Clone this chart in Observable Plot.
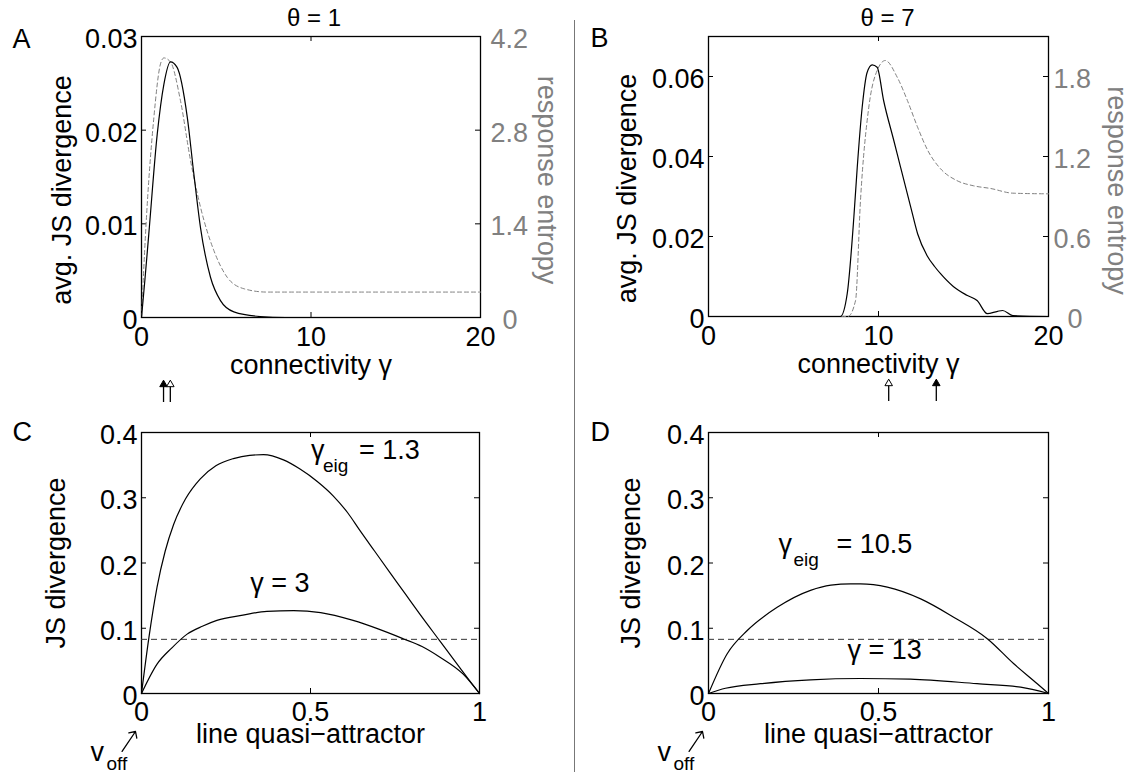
<!DOCTYPE html>
<html>
<head>
<meta charset="utf-8">
<script src="https://cdn.jsdelivr.net/npm/d3@7"></script>
<script src="https://cdn.jsdelivr.net/npm/@observablehq/plot@0.6"></script>
<style>
  body { margin: 0; background: #fff; }
  #fig { position: relative; width: 1137px; height: 774px; overflow: hidden; background: #fff;
         font-family: "Liberation Sans", Arial, Helvetica, sans-serif; }
  #fig svg { position: absolute; }
  .divider { position: absolute; left: 574px; top: 20px; width: 1px; height: 752px; background: #777; }
</style>
</head>
<body>
<div id="fig"><div class="divider"></div></div>
<script>
// ---------------- data ----------------
// Panel A (theta = 1)
const aTitle = "θ = 1";
const aX   = [0, 0.2, 0.43, 0.93, 1.32, 1.71, 2.1, 2.7, 3.09, 3.48, 4.07, 4.66, 5.45, 7.0, 8.5, 10, 15, 20];
const aJS  = [0, 0.004, 0.0089, 0.0196, 0.0249, 0.0273, 0.0267, 0.0214, 0.0153, 0.0096, 0.0043, 0.0018, 0.0006, 0.0001, 0, 0, 0, 0];
const aEntX = [0, 0.24, 0.73, 1.12, 1.32, 1.71, 2.3, 2.89, 3.48, 4.27, 5.06, 6.04, 7.4, 10, 15, 20];
const aEnt  = [0, 1.26, 2.99, 3.79, 3.88, 3.82, 3.24, 2.35, 1.65, 1.0, 0.6, 0.43, 0.38, 0.38, 0.38, 0.38];
const aXTicks = [0, 10, 20];
const aYTicks = [0, 0.01, 0.02, 0.03];
const aEntTicks = [0, 1.4, 2.8, 4.2];
const aArrowX = [1.3, 1.7];
const aArrowFilled = [true, false];

// Panel B (theta = 7)
const bTitle = "θ = 7";
const bX  = [0, 7.5, 7.76, 8.16, 8.55, 8.75, 9.04, 9.33, 9.63, 9.92, 10.3, 10.9, 11.3, 11.9, 12.3, 12.86, 13.3, 13.65, 14.4, 15.2, 15.8, 16.4, 17.0, 17.3, 17.9, 20];
const bJS = [0, 0, 0, 0.0057, 0.0248, 0.0373, 0.0523, 0.061, 0.0629, 0.0623, 0.054, 0.044, 0.0373, 0.0273, 0.0207, 0.0152, 0.0125, 0.0107, 0.0075, 0.0053, 0.004, 0.0007, 0.0013, 0.0015, 0.0002, 0];
const bEntX = [0, 8.2, 8.65, 8.94, 9.43, 9.92, 10.4, 11.1, 11.7, 12.3, 12.9, 13.65, 14.6, 15.6, 16.6, 17.9, 20];
const bEnt  = [0, 0, 0.12, 0.87, 1.57, 1.845, 1.92, 1.795, 1.62, 1.42, 1.245, 1.108, 1.02, 0.98, 0.96, 0.925, 0.92];
const bXTicks = [0, 10, 20];
const bYTicks = [0, 0.02, 0.04, 0.06];
const bEntTicks = [0, 0.6, 1.2, 1.8];
const bArrowX = [10.6, 13.4];
const bArrowFilled = [false, true];

// Panel C
const cX1 = [0, 0.022, 0.046, 0.07, 0.095, 0.13, 0.174, 0.22, 0.272, 0.32, 0.361, 0.42, 0.469, 0.52, 0.567, 0.61, 0.646, 0.69, 0.734, 0.78, 0.823, 0.882, 0.941, 0.97, 1];
const cY1 = [0, 0.086, 0.163, 0.218, 0.259, 0.298, 0.329, 0.349, 0.36, 0.365, 0.366, 0.358, 0.344, 0.325, 0.303, 0.277, 0.25, 0.218, 0.186, 0.153, 0.122, 0.081, 0.04, 0.02, 0];
const cX2 = [0, 0.046, 0.09, 0.135, 0.18, 0.223, 0.3, 0.371, 0.45, 0.53, 0.626, 0.7, 0.774, 0.83, 0.882, 0.951, 1];
const cY2 = [0, 0.045, 0.07, 0.091, 0.103, 0.112, 0.12, 0.126, 0.127, 0.124, 0.112, 0.099, 0.084, 0.072, 0.056, 0.03, 0];
const cThreshold = 0.083;
const cLabel1 = ["γ", "eig", "= 1.3"];
const cLabel2 = "γ = 3";

// Panel D
const dX1 = [0, 0.055, 0.114, 0.202, 0.3, 0.36, 0.418, 0.447, 0.526, 0.624, 0.721, 0.82, 0.898, 0.967, 1];
const dY1 = [0, 0.061, 0.0966, 0.132, 0.158, 0.166, 0.168, 0.168, 0.163, 0.145, 0.117, 0.084, 0.0455, 0.015, 0];
const dX2 = [0, 0.05, 0.153, 0.3, 0.447, 0.594, 0.79, 0.918, 1];
const dY2 = [0, 0.008, 0.015, 0.021, 0.023, 0.022, 0.015, 0.0097, 0];
const dThreshold = 0.083;
const dLabel1 = ["γ", "eig", "= 10.5"];
const dLabel2 = "γ = 13";

const cdXTicks = [0, 0.5, 1];
const cdYTicks = [0, 0.1, 0.2, 0.3, 0.4];

// ---------------- drawing ----------------
const fig = document.getElementById("fig");
const FONT = '"Liberation Sans", Arial, Helvetica, sans-serif';
const GRAY = "#808080";
const fmt = d => String(+(+d).toFixed(4));
const style = {fontFamily: FONT, fontSize: "27px", background: "transparent", overflow: "visible", maxWidth: "none", color: "black"};

function place(svg, left, top) {
  svg.style.position = "absolute";
  svg.style.left = left + "px";
  svg.style.top = top + "px";
  fig.appendChild(svg);
}

function boxMarks(xTicks, yTicks, iw, ih) {
  const L = 5;
  return [
    Plot.ruleX(xTicks, {x: d => d, insetTop: ih - L, stroke: "black", strokeWidth: 1}),
    Plot.ruleX(xTicks, {x: d => d, insetBottom: ih - L, stroke: "black", strokeWidth: 1}),
    Plot.ruleY(yTicks, {y: d => d, insetRight: iw - L, stroke: "black", strokeWidth: 1}),
    Plot.ruleY(yTicks, {y: d => d, insetLeft: iw - L, stroke: "black", strokeWidth: 1}),
    Plot.frame({stroke: "black", strokeWidth: 1.3})
  ];
}

function rightAxis(ticks, k, pad, padZero) {
  const nz = ticks.filter(v => v !== 0).map(v => v * k);
  const z = ticks.filter(v => v === 0).map(v => v * k);
  const opts = {anchor: "right", tickSize: 0, dy: 3, tickFormat: d => fmt(d / k), label: null, color: GRAY, fill: GRAY};
  return [
    Plot.axisY(nz, {...opts, tickPadding: pad}),
    Plot.axisY(z, {...opts, tickPadding: padZero})
  ];
}

function arrowMarks(xs, filled, ih) {
  // shafts below the x-axis label, heads as triangles
  return [
    Plot.ruleX(xs, {x: d => d, insetTop: ih + 69, insetBottom: -85, stroke: "black", strokeWidth: 1.3}),
    Plot.dot(xs, {x: d => d, frameAnchor: "bottom", dy: 67, symbol: "triangle", r: 2.8,
      stroke: "black", strokeWidth: 1, fill: (d, i) => filled[i] ? "black" : "white"})
  ];
}

function gammaLabel(parts, x, y, dxSub, dxRest) {
  return [
    Plot.text([parts[0]], {x: () => x, y: () => y, text: d => d, textAnchor: "start", lineAnchor: "bottom"}),
    Plot.text([parts[1]], {x: () => x, y: () => y, text: d => d, textAnchor: "start", lineAnchor: "bottom", dx: dxSub, dy: 13, fontSize: 19}),
    Plot.text([parts[2]], {x: () => x, y: () => y, text: d => d, textAnchor: "start", lineAnchor: "bottom", dx: dxRest})
  ];
}

function voffMarks() {
  return [
    Plot.vector([0], {x: () => 0, y: () => 0, length: 24, rotate: 34, anchor: "end", dx: -6, dy: 38, stroke: "black", strokeWidth: 1.3}),
    Plot.text(["v"], {x: () => 0, y: () => 0, text: d => d, textAnchor: "start", lineAnchor: "bottom", dx: -51, dy: 67}),
    Plot.text(["off"], {x: () => 0, y: () => 0, text: d => d, textAnchor: "start", lineAnchor: "bottom", dx: -35, dy: 76, fontSize: 19})
  ];
}

// ---- Panel A ----
{
  const W = 570, H = 410, mL = 141, mR = 90, mT = 36, mB = 93;
  const iw = W - mL - mR, ih = H - mT - mB;
  const k = aYTicks[aYTicks.length - 1] / aEntTicks[aEntTicks.length - 1];
  const svg = Plot.plot({
    width: W, height: H, marginLeft: mL, marginRight: mR, marginTop: mT, marginBottom: mB,
    style,
    x: {domain: [0, 20], axis: null},
    y: {domain: [0, 0.03], axis: null},
    marks: [
      ...boxMarks(aXTicks, aYTicks, iw, ih),
      Plot.line(aEnt, {x: aEntX, y: aEnt.map(v => v * k), stroke: GRAY, strokeWidth: 1, strokeDasharray: "4,3", curve: "monotone-x"}),
      Plot.line(aJS, {x: aX, y: aJS, stroke: "black", strokeWidth: 1.2, curve: "monotone-x"}),
      Plot.axisX(aXTicks, {anchor: "bottom", tickSize: 0, tickPadding: 9, tickFormat: fmt, label: null}),
      Plot.axisY(aYTicks, {anchor: "left", tickSize: 0, tickPadding: 4, dy: 3, tickFormat: fmt, label: null}),
      ...rightAxis(aEntTicks, k, 10, 22),
      Plot.text(["avg. JS divergence"], {text: d => d, frameAnchor: "left", textAnchor: "middle", rotate: -90, dx: -79, dy: 13}),
      Plot.text(["response entropy"], {text: d => d, frameAnchor: "right", textAnchor: "middle", rotate: 90, dx: 66, dy: 3, fill: GRAY}),
      Plot.text(["connectivity γ"], {text: d => d, frameAnchor: "bottom", lineAnchor: "bottom", dy: 56}),
      Plot.text([aTitle], {text: d => d, frameAnchor: "top", lineAnchor: "bottom", dx: 3, dy: -11, fontSize: 24}),
      Plot.text(["A"], {text: d => d, frameAnchor: "top-left", textAnchor: "start", lineAnchor: "top", dx: -129, dy: -8}),
      ...arrowMarks(aArrowX, aArrowFilled, ih)
    ]
  });
  place(svg, 0, 0);
}

// ---- Panel B ----
{
  const W = 567, H = 410, mL = 138, mR = 89, mT = 36, mB = 94;
  const iw = W - mL - mR, ih = H - mT - mB;
  const yMax = 0.07, entMax = 2.1;
  const k = yMax / entMax;
  const svg = Plot.plot({
    width: W, height: H, marginLeft: mL, marginRight: mR, marginTop: mT, marginBottom: mB,
    style,
    x: {domain: [0, 20], axis: null},
    y: {domain: [0, yMax], axis: null},
    marks: [
      ...boxMarks(bXTicks, bYTicks, iw, ih),
      Plot.line(bEnt, {x: bEntX, y: bEnt.map(v => v * k), stroke: GRAY, strokeWidth: 1, strokeDasharray: "4,3", curve: "monotone-x"}),
      Plot.line(bJS, {x: bX, y: bJS, stroke: "black", strokeWidth: 1.2, curve: "monotone-x"}),
      Plot.axisX(bXTicks, {anchor: "bottom", tickSize: 0, tickPadding: 9, tickFormat: fmt, label: null}),
      Plot.axisY(bYTicks, {anchor: "left", tickSize: 0, tickPadding: 4, dy: 3, tickFormat: fmt, label: null}),
      ...rightAxis(bEntTicks, k, 5, 19),
      Plot.text(["avg. JS divergence"], {text: d => d, frameAnchor: "left", textAnchor: "middle", rotate: -90, dx: -81, dy: 12}),
      Plot.text(["response entropy"], {text: d => d, frameAnchor: "right", textAnchor: "middle", rotate: 90, dx: 68, dy: 14, fill: GRAY}),
      Plot.text(["connectivity γ"], {text: d => d, frameAnchor: "bottom", lineAnchor: "bottom", dy: 56}),
      Plot.text([bTitle], {text: d => d, frameAnchor: "top", lineAnchor: "bottom", dx: 9, dy: -11, fontSize: 24}),
      Plot.text(["B"], {text: d => d, frameAnchor: "top-left", textAnchor: "start", lineAnchor: "top", dx: -118, dy: -9}),
      ...arrowMarks(bArrowX, bArrowFilled, ih)
    ]
  });
  place(svg, 570, 0);
}

// ---- Panel C ----
{
  const W = 570, H = 364, mL = 141, mR = 91, mT = 22, mB = 81;
  const iw = W - mL - mR, ih = H - mT - mB;
  const svg = Plot.plot({
    width: W, height: H, marginLeft: mL, marginRight: mR, marginTop: mT, marginBottom: mB,
    style,
    x: {domain: [0, 1], axis: null},
    y: {domain: [0, 0.4], axis: null},
    marks: [
      ...boxMarks(cdXTicks, cdYTicks, iw, ih),
      Plot.ruleY([cThreshold], {y: d => d, stroke: "#333", strokeWidth: 1, strokeDasharray: "6,4"}),
      Plot.line(cY1, {x: cX1, y: cY1, stroke: "black", strokeWidth: 1.2, curve: "monotone-x"}),
      Plot.line(cY2, {x: cX2, y: cY2, stroke: "black", strokeWidth: 1.2, curve: "monotone-x"}),
      Plot.axisX(cdXTicks, {anchor: "bottom", tickSize: 0, tickPadding: 8, tickFormat: fmt, label: null}),
      Plot.axisY(cdYTicks, {anchor: "left", tickSize: 0, tickPadding: 4, dy: 3, tickFormat: fmt, label: null}),
      Plot.text(["JS divergence"], {text: d => d, frameAnchor: "left", textAnchor: "middle", rotate: -90, dx: -85, dy: 0}),
      Plot.text(["line quasi−attractor"], {text: d => d, frameAnchor: "bottom", lineAnchor: "bottom", dy: 49}),
      Plot.text(["C"], {text: d => d, frameAnchor: "top-left", textAnchor: "start", lineAnchor: "top", dx: -129, dy: -11}),
      ...gammaLabel(cLabel1, 0.5015, 0.36, 12, 48),
      Plot.text([cLabel2], {x: () => 0.3215, y: () => 0.155, text: d => d, textAnchor: "start", lineAnchor: "bottom"}),
      ...voffMarks()
    ]
  });
  place(svg, 0, 410);
}

// ---- Panel D ----
{
  const W = 567, H = 364, mL = 138, mR = 89, mT = 22, mB = 81;
  const iw = W - mL - mR, ih = H - mT - mB;
  const svg = Plot.plot({
    width: W, height: H, marginLeft: mL, marginRight: mR, marginTop: mT, marginBottom: mB,
    style,
    x: {domain: [0, 1], axis: null},
    y: {domain: [0, 0.4], axis: null},
    marks: [
      ...boxMarks(cdXTicks, cdYTicks, iw, ih),
      Plot.ruleY([dThreshold], {y: d => d, stroke: "#333", strokeWidth: 1, strokeDasharray: "6,4"}),
      Plot.line(dY1, {x: dX1, y: dY1, stroke: "black", strokeWidth: 1.2, curve: "monotone-x"}),
      Plot.line(dY2, {x: dX2, y: dY2, stroke: "black", strokeWidth: 1.2, curve: "monotone-x"}),
      Plot.axisX(cdXTicks, {anchor: "bottom", tickSize: 0, tickPadding: 8, tickFormat: fmt, label: null}),
      Plot.axisY(cdYTicks, {anchor: "left", tickSize: 0, tickPadding: 4, dy: 3, tickFormat: fmt, label: null}),
      Plot.text(["JS divergence"], {text: d => d, frameAnchor: "left", textAnchor: "middle", rotate: -90, dx: -77, dy: 0}),
      Plot.text(["line quasi−attractor"], {text: d => d, frameAnchor: "bottom", lineAnchor: "bottom", dy: 49}),
      Plot.text(["D"], {text: d => d, frameAnchor: "top-left", textAnchor: "start", lineAnchor: "top", dx: -118, dy: -11}),
      ...gammaLabel(dLabel1, 0.206, 0.216, 15, 58),
      Plot.text([dLabel2], {x: () => 0.409, y: () => 0.0536, text: d => d, textAnchor: "start", lineAnchor: "bottom"}),
      ...voffMarks()
    ]
  });
  place(svg, 570, 410);
}
</script>
</body>
</html>
